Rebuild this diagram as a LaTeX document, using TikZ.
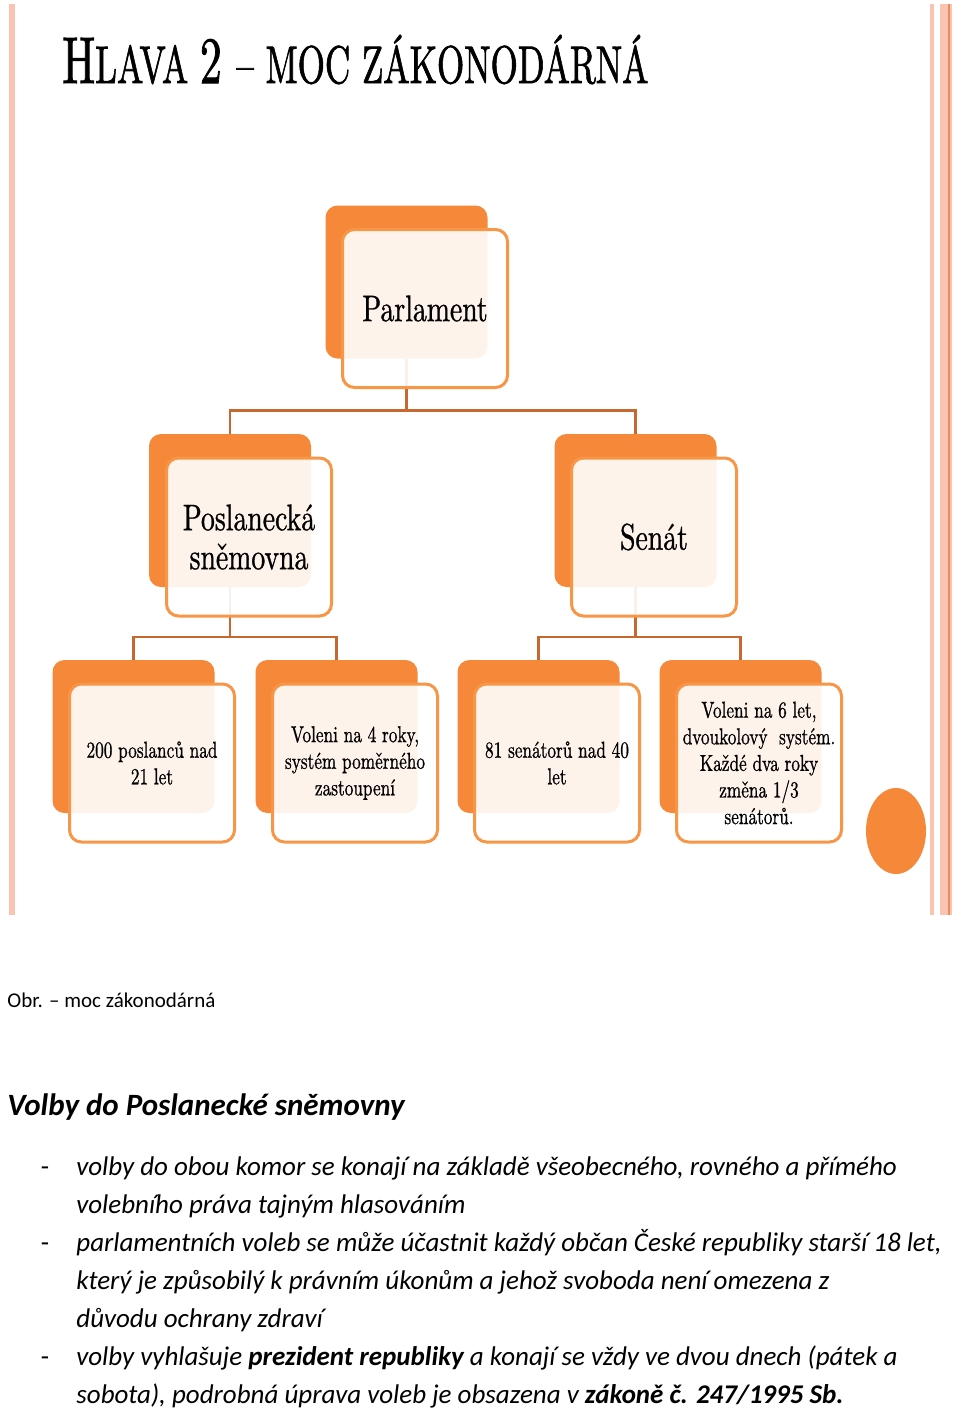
\documentclass[tikz,border=0pt]{standalone}
\usepackage{fontspec}
\usepackage{graphicx}
\newfontfamily\condfont[FakeStretch=0.75, FakeBold=0.8]{lmroman10-regular.otf}
\newfontfamily\titlefont[FakeBold=1.6]{lmroman10-regular.otf}
\newfontfamily\calfont{Carlito}
\definecolor{smartOrange}{RGB}{246,136,58}
\definecolor{smartEdge}{RGB}{247,150,70}
\definecolor{smartLink}{RGB}{200,104,48}
\definecolor{frameSalmon}{RGB}{249,197,178}
\definecolor{frameDark}{RGB}{232,140,88}

\begin{document}
\begin{tikzpicture}[x=0.5pt, y=-0.5pt,
  backbox/.style={rectangle, rounded corners=6pt, fill=smartOrange, minimum width=81pt, minimum height=76.5pt, inner sep=0pt, outer sep=0pt},
  frontbox/.style={rectangle, rounded corners=6pt, draw=smartEdge, line width=1.5pt, fill=white, fill opacity=0.9, text opacity=1, minimum width=82.5pt, minimum height=79pt, inner sep=0pt, align=center},
  bigtext/.style={font=\condfont\fontsize{18.5}{19.5}\selectfont},
  smalltext/.style={font=\condfont\fontsize{11.5}{13.3}\selectfont},
  link/.style={draw=smartLink, line width=1.4pt},
  bodytext/.style={anchor=base west, inner sep=0pt, font=\calfont\itshape\fontsize{13.5}{19}\selectfont},
  dashmark/.style={anchor=base, inner sep=0pt, font=\calfont\fontsize{13.5}{19}\selectfont}]
  \useasboundingbox (0,0) rectangle (960,1409);
  \fill[white] (0,0) rectangle (960,1409);
  % Slide frame
  \fill[frameSalmon] (9,4) rectangle (15,915);
  \fill[frameSalmon] (930,4) rectangle (934,915);
  \fill[frameSalmon] (940,4) rectangle (952,915);
  \fill[frameDark] (947.5,4) rectangle (949.5,915);
  % Title
  \node[anchor=base west, inner sep=0pt] (title) at (62,83) {\resizebox{293pt}{\height}{\titlefont\fontsize{33}{33}\selectfont H\fontsize{26.5}{26.5}\selectfont LAVA \fontsize{33}{33}\selectfont 2 \fontsize{26.5}{26.5}\selectfont – MOC ZÁKONODÁRNÁ}};
  % Back boxes
  \node[backbox] (parlB) at (406.5,282) {};
  \node[backbox] (posB) at (230,510.5) {};
  \node[backbox] (senB) at (635.5,510.5) {};
  \node[backbox] (d1B) at (133.5,736.5) {};
  \node[backbox] (d2B) at (336.5,736.5) {};
  \node[backbox] (d3B) at (538.5,736.5) {};
  \node[backbox] (d4B) at (740.5,736.5) {};
  % Connectors
  \draw[link] (parlB.south) -- ++(0,52) -| (posB.north);
  \draw[link] (parlB.south) -- ++(0,52) -| (senB.north);
  \draw[link] (posB.south) -- ++(0,50) -| (d1B.north);
  \draw[link] (posB.south) -- ++(0,50) -| (d2B.north);
  \draw[link] (senB.south) -- ++(0,50) -| (d3B.north);
  \draw[link] (senB.south) -- ++(0,50) -| (d4B.north);
  % Front boxes with text
  \node[frontbox, bigtext] (parlF) at (425,308.5) {Parlament};
  \node[frontbox, bigtext] (posF) at (249,537) {Poslanecká\\sněmovna};
  \node[frontbox, bigtext] (senF) at (654,537) {Senát};
  \node[frontbox, smalltext] (d1F) at (152,763) {200 poslanců nad\\21 let};
  \node[frontbox, smalltext] (d2F) at (355,763) {Voleni na 4 roky,\\systém poměrného\\zastoupení};
  \node[frontbox, smalltext] (d3F) at (557,763) {81 senátorů nad 40\\let};
  \node[frontbox, smalltext] (d4F) at (759,763) {Voleni na 6 let,\\dvoukolový\ \ systém.\\Každé dva roky\\změna 1/3\\senátorů.};
  \fill[smartOrange] (896,831) ellipse [x radius=30, y radius=43];
  % Caption and text
  \node[anchor=base west, inner sep=0pt, font=\calfont\fontsize{10.5}{12}\selectfont] (caption) at (7,1007) {Obr. – moc zákonodárná};
  \node[anchor=base west, inner sep=0pt, font=\calfont\bfseries\itshape\fontsize{15.5}{18}\selectfont] (heading) at (7,1115) {Volby do Poslanecké sněmovny};
  \node[dashmark] (dash1) at (45,1175) {-};
  \node[bodytext] (line1) at (76,1175) {volby do obou komor se konají na základě všeobecného, rovného a přímého};
  \node[bodytext] (line2) at (76,1213) {volebního práva tajným hlasováním};
  \node[dashmark] (dash2) at (45,1251) {-};
  \node[bodytext] (line3) at (76,1251) {parlamentních voleb se může účastnit každý občan České republiky starší 18 let,};
  \node[bodytext] (line4) at (76,1289) {který je způsobilý k právním úkonům a jehož svoboda není omezena z};
  \node[bodytext] (line5) at (76,1327) {důvodu ochrany zdraví};
  \node[dashmark] (dash3) at (45,1365) {-};
  \node[bodytext] (line6) at (76,1365) {volby vyhlašuje \textbf{prezident republiky} a konají se vždy ve dvou dnech (pátek a};
  \node[bodytext] (line7) at (76,1403) {sobota), podrobná úprava voleb je obsazena v \textbf{zákoně č. 247/1995 Sb.}};
\end{tikzpicture}
\end{document}
